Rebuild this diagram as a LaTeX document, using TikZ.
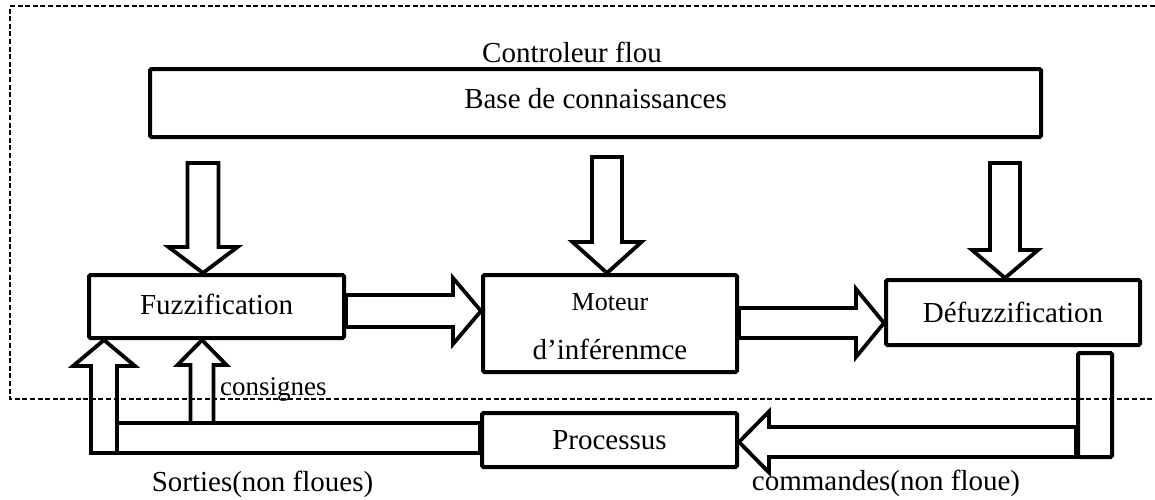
\documentclass[tikz,border=0pt]{standalone}
\usepackage{fontspec}
\setmainfont{Liberation Serif}
\usetikzlibrary{calc}

\tikzset{
  box/.style={draw, line width=4pt, rounded corners=1.5pt, inner sep=0pt,
              font=\fontsize{29}{34}\selectfont},
  blockarrow/.style={draw, line width=3.8pt, line join=miter},
  txt/.style={inner sep=0pt, font=\fontsize{29}{34}\selectfont},
  ctrlframe/.style={line width=1.3pt, dash pattern=on 5pt off 2.6pt},
}

% hollow block arrow: #1 start, #2 tip, #3 shaft half width,
% #4 head half width, #5 head length
\newcommand\fatarrow[5]{%
  \path ($(#2)!#5!(#1)$) coordinate (fa-h);
  \draw[blockarrow] ($(#1)!#3!90:(#2)$) -- ($(fa-h)!#3!90:(#2)$)
    -- ($(fa-h)!#4!90:(#2)$) -- (#2) -- ($(fa-h)!#4!-90:(#2)$)
    -- ($(fa-h)!#3!-90:(#2)$) -- ($(#1)!#3!-90:(#2)$) -- cycle;
}

\begin{document}
\begin{tikzpicture}[x=1pt,y=-1pt]
\useasboundingbox (0,0) rectangle (1155,499);

% controller boundary
\draw[ctrlframe] (1155,6) -- (10,6) -- (10,399) -- (1155,399);
\node[txt, anchor=base] (title) at (572,62) {Controleur flou};

% blocks
\node[box, minimum width=891pt, minimum height=68pt, text depth=10pt] (base) at (595.5,103) {Base de connaissances};
\node[box, minimum width=255pt, minimum height=63pt, text depth=5pt] (fuzz) at (216.5,306.5) {Fuzzification};
\node[box, minimum width=254pt, minimum height=97pt, align=center,
      font=\fontsize{29}{49}\selectfont] (moteur) at (610,323.5)
      {\rule{0pt}{24pt}{\fontsize{26}{49}\selectfont Moteur}\\d’inférenmce};
\node[box, minimum width=254pt, minimum height=65pt] (defuzz) at (1013,312.5) {Défuzzification};
\node[box, minimum width=255pt, minimum height=54pt] (proc) at (609.5,440) {Processus};
\node[box, minimum width=34pt, minimum height=104pt] (cmdbar) at (1095,405) {};

% knowledge base feeding each stage
\coordinate (a1s) at (203,163);
\coordinate (a1e) at (fuzz.north -| a1s);
\fatarrow{a1s}{a1e}{15.5pt}{34.5pt}{26pt}
\coordinate (a2s) at (607,157);
\coordinate (a2e) at (moteur.north -| a2s);
\fatarrow{a2s}{a2e}{15pt}{34.5pt}{31pt}
\coordinate (a3s) at (1005,163);
\coordinate (a3e) at (defuzz.north -| a3s);
\fatarrow{a3s}{a3e}{15pt}{33pt}{28pt}

% forward chain
\coordinate (h1s) at (fuzz.east |- 0,311);
\coordinate (h1e) at (moteur.west |- 0,311);
\fatarrow{h1s}{h1e}{16pt}{33pt}{28pt}
\coordinate (h2s) at (moteur.east |- 0,323);
\coordinate (h2e) at (defuzz.west |- 0,323);
\fatarrow{h2s}{h2e}{15pt}{34pt}{28pt}

% commands to the process
\coordinate (c1s) at (cmdbar.west |- 0,442);
\coordinate (c1e) at (proc.east |- 0,442);
\fatarrow{c1s}{c1e}{15pt}{30.5pt}{30pt}

% feedback of the outputs and set points
\draw[blockarrow] (117,423) rectangle (proc.west |- 0,453);
\coordinate (f1s) at (104,453);
\coordinate (f1e) at (fuzz.south -| f1s);
\fatarrow{f1s}{f1e}{13pt}{31pt}{26pt}
\coordinate (g1s) at (202,423);
\coordinate (g1e) at (fuzz.south -| g1s);
\fatarrow{g1s}{g1e}{11.5pt}{24.5pt}{25pt}

% labels
\node[txt, anchor=base west, font=\fontsize{27}{30}\selectfont] (consignes) at (220,395) {consignes};
\node[txt, anchor=base] (sorties) at (262.5,491) {Sorties(non floues)};
\node[txt, anchor=base] (commandes) at (886,490) {commandes(non floue)};
\end{tikzpicture}
\end{document}
